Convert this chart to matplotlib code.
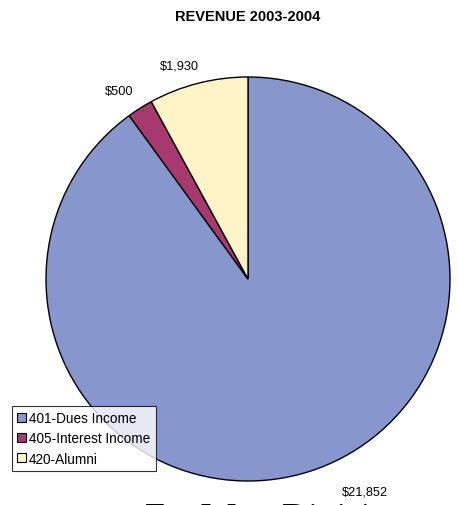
import matplotlib
matplotlib.use("Agg")
import matplotlib.pyplot as plt
from matplotlib.patches import Patch

plt.rcParams["font.family"] = ["Liberation Sans", "DejaVu Sans"]

accounts = ["401-Dues Income", "405-Interest Income", "420-Alumni"]
revenue = [21852, 500, 1930]
colors = ["#8796CC", "#A63A6E", "#FFF3C8"]

# where each value label sits, in pie units (radius 1)
label_pos = [(0.58, -1.05), (-0.64, 0.93), (-0.34, 1.055)]

fig = plt.figure(figsize=(4.58, 5.06), dpi=100)
ax = fig.add_axes([46 / 458, 24 / 506, 404 / 458, 404 / 506], frame_on=False)

wedges, texts = ax.pie(revenue, colors=colors, startangle=90, counterclock=False,
                       labels=["${:,}".format(v) for v in revenue],
                       wedgeprops=dict(edgecolor="black", linewidth=1.0),
                       textprops=dict(fontsize=9.2))
for t, (x, y) in zip(texts, label_pos):
    t.set_position((x, y))
    t.set_ha("center")
    t.set_va("center")
ax.set_xlim(-1, 1)
ax.set_ylim(-1, 1)
ax.set_aspect("equal")

fig.text(248 / 458, 1 - 17 / 506, "REVENUE 2003-2004", ha="center", va="center",
         fontsize=10.5, fontweight="bold")

handles = [Patch(facecolor=c, edgecolor="black", linewidth=0.8) for c in colors]
leg = fig.legend(handles, accounts, loc="lower left",
                 bbox_to_anchor=(12 / 458, 1 - 472 / 506), fontsize=9.8,
                 frameon=True, fancybox=False, edgecolor="black",
                 handlelength=0.65, handleheight=0.65, handletextpad=0.2,
                 borderpad=0.4, labelspacing=0.45, borderaxespad=0)
leg.get_frame().set_linewidth(0.8)

fig.text(145 / 458, 1 - 503 / 506, "Far West Division", ha="left", va="top",
         fontsize=26, family=["Liberation Serif", "DejaVu Serif"])

fig.savefig("out.png", dpi=100)
